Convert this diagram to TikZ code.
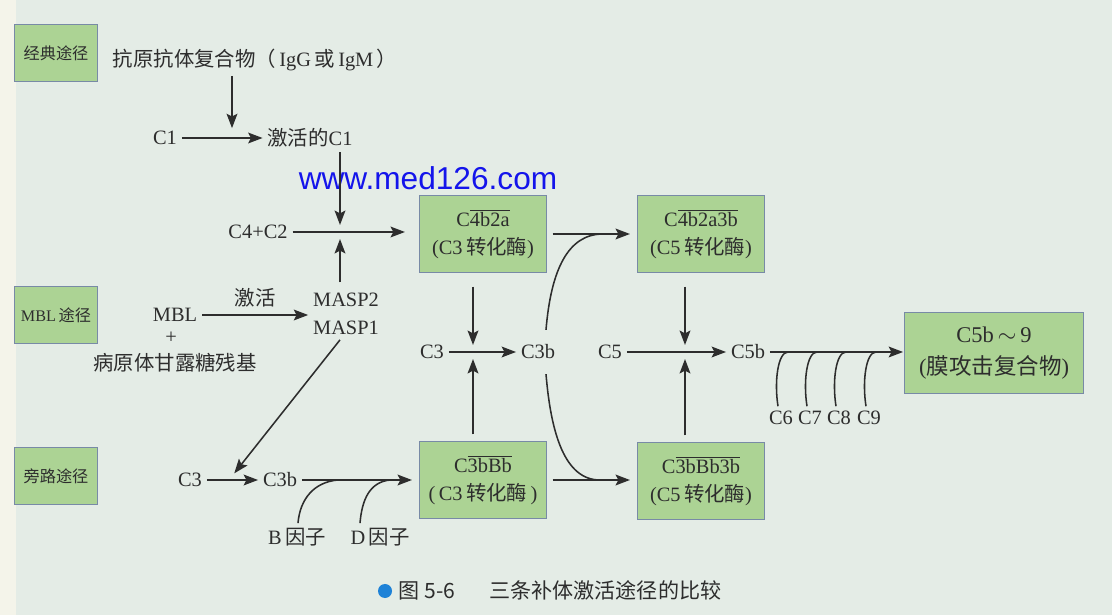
\documentclass[tikz,border=0pt]{standalone}
\usepackage{fontspec}
\setmainfont{Liberation Serif}
\newfontfamily\cjk{Noto Sans CJK SC}
\newfontfamily\webfont{Liberation Sans}
\usetikzlibrary{arrows.meta,calc}
\newcommand{\zh}[1]{{\cjk #1}}
\definecolor{paper}{RGB}{228,236,230}
\definecolor{edge}{RGB}{244,244,234}
\definecolor{boxgreen}{RGB}{172,211,148}
\definecolor{boxline}{RGB}{120,138,166}
\definecolor{ink}{RGB}{45,45,45}
\definecolor{capblue}{RGB}{30,130,215}
\definecolor{wmblue}{RGB}{20,20,235}
\tikzset{
  pbox/.style={draw=boxline, fill=boxgreen, line width=0.7pt, minimum width=2.075cm, minimum height=1.425cm, text=ink, font=\fontsize{11.5}{14}\selectfont},
  ebox/.style={draw=boxline, fill=boxgreen, line width=0.7pt, minimum width=3.175cm, minimum height=1.9cm, align=center, text=ink, font=\fontsize{14.5}{20}\selectfont},
  mbox/.style={draw=boxline, fill=boxgreen, line width=0.7pt, minimum width=4.45cm, minimum height=2cm, align=center, text=ink, font=\fontsize{16}{23}\selectfont},
  lbl/.style={text=ink, font=\fontsize{14.5}{20}\selectfont},
  ln/.style={draw=ink, line width=1.1pt},
  arr/.style={-{Stealth[length=3.6mm, width=2.7mm, inset=0.7mm]}, draw=ink, line width=1.1pt},
}

\begin{document}
\begin{tikzpicture}[x=0.025cm, y=-0.025cm]

\fill[paper] (0,0) rectangle (1112,615);
\fill[edge] (0,0) rectangle (16,615);
\useasboundingbox (0,0) rectangle (1112,615);

% pathway labels
\node[pbox] (classic) at (56,53) {\zh{经典途径}};
\node[pbox] (lectin) at (56,315) {MBL\,\zh{途径}};
\node[pbox] (altern) at (56,476) {\zh{旁路途径}};

% classical pathway
\node[lbl] (agab) at (255,60) {\zh{抗原抗体复合物（}\,IgG\,\zh{或}\,IgM\,\zh{）}};
\node[lbl] (c1) at (165,138) {C1};
\node[lbl] (ac1) at (310,138) {\zh{激活的}C1};
\node[lbl] (c4c2) at (258,232) {C4+C2};

% MBL pathway
\node[lbl] (mbl) at (175,315) {MBL};
\node[lbl] (plus) at (171,338) {+};
\node[lbl] (sugar) at (175,363) {\zh{病原体甘露糖残基}};
\node[lbl, align=center] (masp) at (346,314) {MASP2\\MASP1};

% alternative pathway
\node[lbl] (c3a) at (190,480) {C3};
\node[lbl] (c3ba) at (280,480) {C3b};
\node[lbl] (fb) at (297,537) {B\,\zh{因子}};
\node[lbl] (fd) at (380,537) {D\,\zh{因子}};

% convertases
\node[ebox] (cvc3) at (483,234) {C$\overline{\hbox{4b2a}}$\\(C3\,\zh{转化酶})};
\node[ebox] (cvc5) at (701,234) {C$\overline{\hbox{4b2a3b}}$\\(C5\,\zh{转化酶})};
\node[ebox] (cva3) at (483,480) {C$\overline{\hbox{3bBb}}$\\(\,C3\,\zh{转化酶}\,)};
\node[ebox] (cva5) at (701,481) {C$\overline{\hbox{3bBb3b}}$\\(C5\,\zh{转化酶})};

% common part
\node[lbl] (c3m) at (432,352) {C3};
\node[lbl] (c3bm) at (538,352) {C3b};
\node[lbl] (c5m) at (610,352) {C5};
\node[lbl] (c5b) at (748,352) {C5b};
\node[mbox] (mac) at (994,353) {C5b\,$\sim$\,9\\(\zh{膜攻击复合物})};
\node[lbl] (c6) at (781,418) {C6};
\node[lbl] (c7) at (810,418) {C7};
\node[lbl] (c8) at (839,418) {C8};
\node[lbl] (c9) at (869,418) {C9};

\node[text=wmblue, font=\webfont\fontsize{22.5}{26}\selectfont] (wm) at (428,178) {www.med126.com};

\node[circle, fill=capblue, inner sep=0pt, minimum size=0.35cm] (dot) at (385,591) {};
\node[anchor=west, text=ink, font=\cjk\fontsize{15}{18}\selectfont] (cap) at (394,590) {图 5-6\hspace{1.6em}三条补体激活途径的比较};

% junctions
\coordinate (jc1) at (232,138);
\coordinate (jc2) at (340,232);
\coordinate (ja) at (229,480);
\coordinate (jb) at (338,480);
\coordinate (jd) at (390,480);
\coordinate (j3) at (473,352);
\coordinate (j5) at (685,352);
\coordinate (jt) at (603,234);
\coordinate (jl) at (600,480);

% classical
\draw[arr] (c1) -- (ac1);
\draw[arr, shorten >=7pt] (agab.south -| jc1) -- (jc1);
\draw[arr, shorten >=5pt] (ac1.south -| jc2) -- (jc2);
\draw[arr, shorten >=10pt] (c4c2) -- (c4c2 -| cvc3.west);

% MBL
\draw[arr] (mbl.east) -- (mbl.east -| masp.west) node[midway, above=2pt, lbl] {\zh{激活}};
\draw[arr, shorten <=4pt, shorten >=5pt] (masp.north -| jc2) -- (jc2);
\draw[arr, shorten >=6pt] ($(masp.south)+(-6,0)$) -- (ja);

% alternative
\draw[arr] (c3a) -- (c3ba);
\draw[arr, shorten >=5pt] (c3ba) -- (c3ba -| cva3.west);
\draw[ln] ($(fb.north)+(1,0)$) .. controls +(2,-24) and +(-24,2) .. (jb);
\draw[ln] ($(fd.north)+(-20,0)$) .. controls +(2,-24) and +(-20,2) .. (jd);

% convertases to C3b / C5b
\draw[arr] (c3m) -- (c3bm);
\draw[arr, shorten <=10pt, shorten >=5pt] (cvc3.south -| j3) -- (j3);
\draw[arr, shorten <=5pt, shorten >=5pt] (cva3.north -| j3) -- (j3);
\draw[arr, shorten <=4pt, shorten >=5pt] (cvc3) -- (cvc5);
\draw[arr, shorten <=4pt, shorten >=5pt] (cva3.east) -- (cva3.east -| cva5.west);
\draw[ln] ($(c3bm.north)+(8,-10)$) .. controls +(5,-60) and +(-35,0) .. (jt);
\draw[ln] ($(c3bm.south)+(8,10)$) .. controls +(5,60) and +(-35,0) .. (jl);

\draw[arr] (c5m) -- (c5b);
\draw[arr, shorten <=10pt, shorten >=5pt] (cvc5.south -| j5) -- (j5);
\draw[arr, shorten <=5pt, shorten >=5pt] (cva5.north -| j5) -- (j5);

% MAC
\draw[arr, shorten >=1pt] (c5b) -- (c5b -| mac.west);
\draw[ln] ($(c6.north)+(-3,0)$) .. controls +(-4,-25) and +(-10,0) .. ($(c6.north |- c5b)+(7,0)$);
\draw[ln] ($(c7.north)+(-3,0)$) .. controls +(-4,-25) and +(-10,0) .. ($(c7.north |- c5b)+(7,0)$);
\draw[ln] ($(c8.north)+(-3,0)$) .. controls +(-4,-25) and +(-10,0) .. ($(c8.north |- c5b)+(7,0)$);
\draw[ln] ($(c9.north)+(-3,0)$) .. controls +(-4,-25) and +(-10,0) .. ($(c9.north |- c5b)+(7,0)$);

\end{tikzpicture}
\end{document}
